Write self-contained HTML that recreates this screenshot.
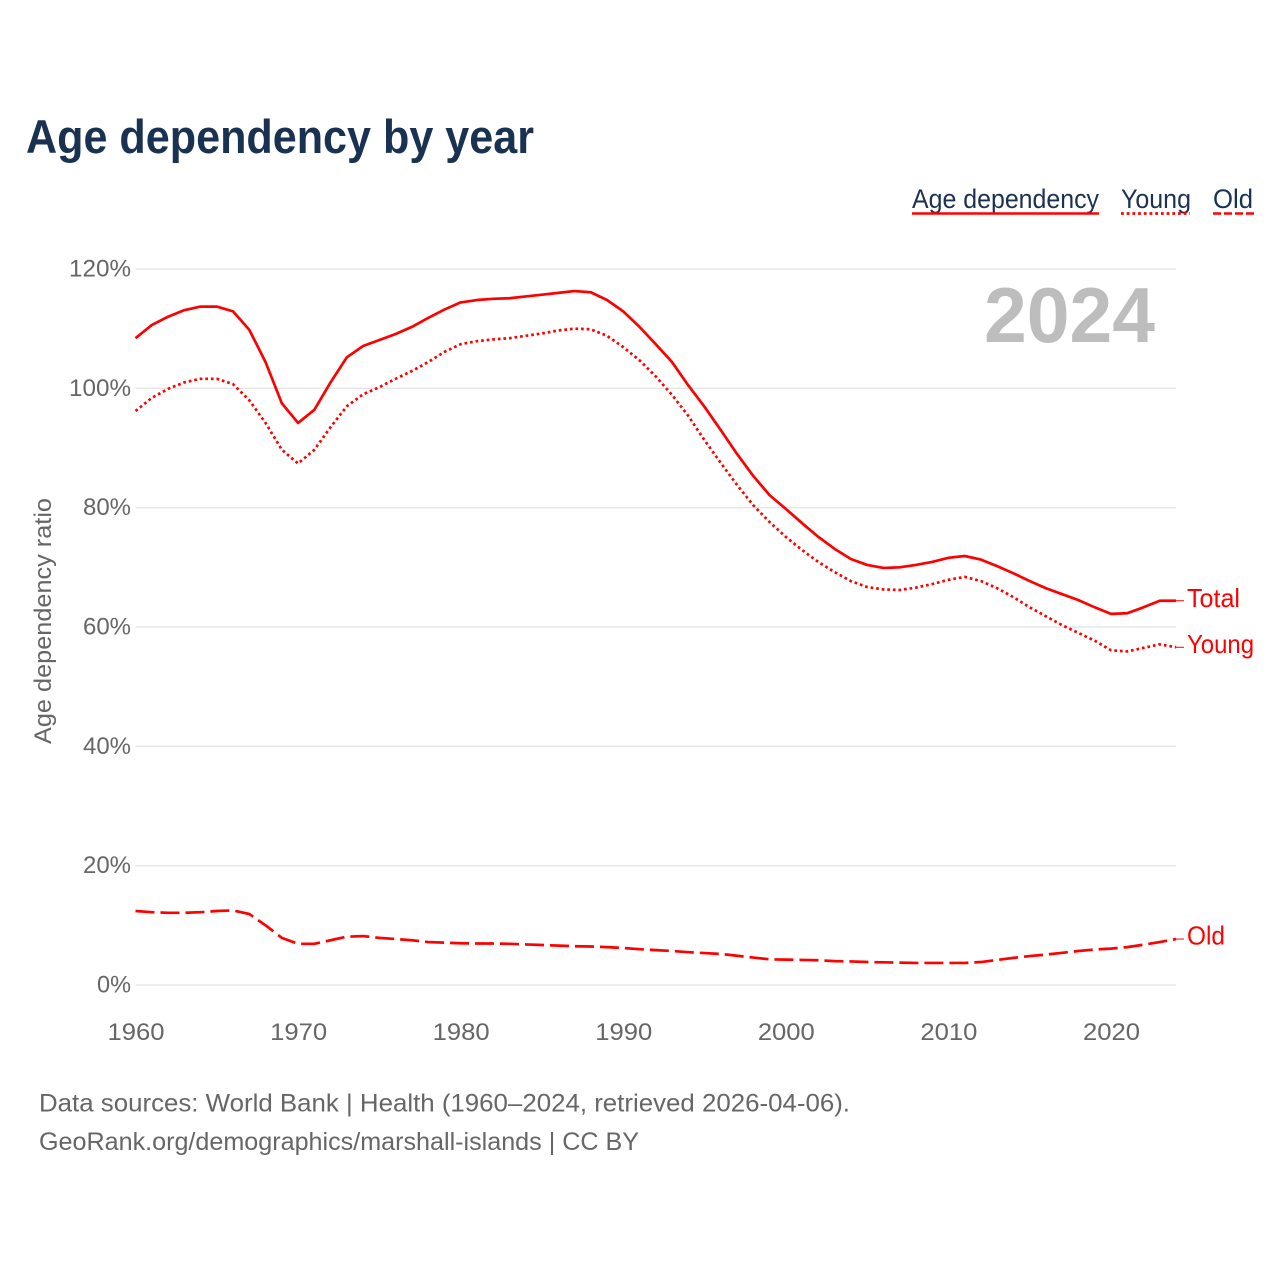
<!DOCTYPE html>
<html lang="en">
<head>
<meta charset="utf-8">
<title>Age dependency by year</title>
<style>
  html, body { margin: 0; padding: 0; background: #ffffff; }
  svg { display: block; font-family: "Liberation Sans", sans-serif; }
  .tick { font-size: 24px; fill: #666666; }
  .note { font-size: 25px; fill: #666666; }
  .legend { font-size: 27px; fill: #1a3252; }
  .end { font-size: 26px; fill: #ff0000; }
</style>
</head>
<body>
<svg id="chart" xmlns="http://www.w3.org/2000/svg" width="1280" height="1280" viewBox="0 0 1280 1280">
  <rect x="0" y="0" width="1280" height="1280" fill="#ffffff"/>
  <text x="26" y="153" font-size="47" font-weight="700" fill="#1a3252" textLength="508" lengthAdjust="spacingAndGlyphs">Age dependency by year</text>

  <g id="grid"></g>
  <g id="yticks"></g>
  <g id="xticks"></g>

  <text class="tick" transform="translate(51,744) rotate(-90)" x="0" y="0" textLength="246" lengthAdjust="spacingAndGlyphs">Age dependency ratio</text>
  <text x="984" y="342" font-size="78" font-weight="700" fill="#bdbdbd" textLength="171" lengthAdjust="spacingAndGlyphs">2024</text>

  <g id="series"></g>

  <g>
    <text class="legend" x="912" y="208" textLength="187" lengthAdjust="spacingAndGlyphs">Age dependency</text>
    <line x1="912" y1="213.5" x2="1099" y2="213.5" stroke="#ff0000" stroke-width="2.5"/>
  </g>
  <g>
    <text class="legend" x="1121" y="208" textLength="70" lengthAdjust="spacingAndGlyphs">Young</text>
    <line x1="1121" y1="213.5" x2="1190" y2="213.5" stroke="#ff0000" stroke-width="2.8" stroke-dasharray="2.8 2.9"/>
  </g>
  <g>
    <text class="legend" x="1213" y="208" textLength="40" lengthAdjust="spacingAndGlyphs">Old</text>
    <line x1="1213" y1="213.5" x2="1254" y2="213.5" stroke="#ff0000" stroke-width="2.5" stroke-dasharray="8 3"/>
  </g>

  <text class="note" x="39" y="1111.5" textLength="811" lengthAdjust="spacingAndGlyphs">Data sources: World Bank | Health (1960–2024, retrieved 2026-04-06).</text>
  <text class="note" x="39" y="1150" textLength="600" lengthAdjust="spacingAndGlyphs">GeoRank.org/demographics/marshall-islands | CC BY</text>
</svg>
<script>
const years = [1960,1961,1962,1963,1964,1965,1966,1967,1968,1969,1970,1971,1972,1973,1974,1975,1976,1977,1978,1979,1980,1981,1982,1983,1984,1985,1986,1987,1988,1989,1990,1991,1992,1993,1994,1995,1996,1997,1998,1999,2000,2001,2002,2003,2004,2005,2006,2007,2008,2009,2010,2011,2012,2013,2014,2015,2016,2017,2018,2019,2020,2021,2022,2023,2024];
const totalValues = [108.4,110.6,112,113.1,113.7,113.7,112.9,109.8,104.4,97.5,94.2,96.4,101,105.2,107.1,108.1,109.1,110.3,111.8,113.2,114.4,114.8,115,115.1,115.4,115.7,116,116.3,116.1,114.8,112.9,110.3,107.4,104.4,100.5,96.9,93,89,85.3,82.1,79.8,77.4,75.1,73.1,71.4,70.4,69.9,70,70.4,70.9,71.6,71.9,71.3,70.2,69,67.7,66.5,65.5,64.5,63.3,62.2,62.3,63.3,64.4,64.4];
const youngValues = [96.2,98.4,99.9,101,101.6,101.6,100.7,98,94.2,89.7,87.4,89.7,93.5,97,99,100.2,101.6,102.9,104.4,106.1,107.4,107.9,108.2,108.4,108.8,109.2,109.7,110,109.9,108.8,106.9,104.7,102,98.9,95.4,91.3,87.5,83.8,80.4,77.6,75.1,72.9,70.9,69.2,67.7,66.7,66.3,66.2,66.6,67.2,67.9,68.4,67.7,66.5,65,63.3,61.8,60.3,59,57.7,56.1,55.9,56.5,57.1,56.6];
const oldValues = [12.4,12.2,12.1,12.1,12.2,12.4,12.5,11.9,10,7.9,6.9,6.9,7.5,8.1,8.2,7.9,7.7,7.5,7.2,7.1,7,6.95,6.95,6.9,6.8,6.7,6.6,6.5,6.45,6.35,6.2,6,5.85,5.7,5.5,5.35,5.2,4.9,4.6,4.3,4.25,4.2,4.15,4,3.95,3.85,3.8,3.75,3.7,3.7,3.7,3.7,3.85,4.2,4.55,4.85,5.1,5.4,5.7,5.95,6.1,6.35,6.75,7.2,7.7];
const yTickValues = [0,20,40,60,80,100,120];
const yTickLabels = ["0%","20%","40%","60%","80%","100%","120%"];
const xTickValues = [1960,1970,1980,1990,2000,2010,2020];
const xTickLabels = ["1960","1970","1980","1990","2000","2010","2020"];
const endLabels = ["Total","Young","Old"];

const NS = "http://www.w3.org/2000/svg";
const plotLeft = 135.5, plotRight = 1176, plotTop = 269, plotBottom = 985;
const xMin = 1960, xMax = 2024, yMin = 0, yMax = 120;
function xScale(v) { return plotLeft + (v - xMin) * (plotRight - plotLeft) / (xMax - xMin); }
function yScale(v) { return plotBottom - (v - yMin) * (plotBottom - plotTop) / (yMax - yMin); }
function make(tag, attrs, parent, text) {
  const el = document.createElementNS(NS, tag);
  for (const k in attrs) el.setAttribute(k, attrs[k]);
  if (text !== undefined) el.textContent = text;
  parent.appendChild(el);
  return el;
}

const gridGroup = document.getElementById("grid");
const yGroup = document.getElementById("yticks");
const xGroup = document.getElementById("xticks");
const seriesGroup = document.getElementById("series");

yTickValues.forEach(function (v, i) {
  const gridLine = make("line", {x1: plotLeft, x2: plotRight, y1: yScale(v), y2: yScale(v), stroke: "#e6e6e6", "stroke-width": 1.4}, gridGroup);
  
  
  const labelWidth = (yTickLabels[i].length - 1) * 14 + 20;
  const label = make("text", {class: "tick", x: 131, y: yScale(v) + 7.5, "text-anchor": "end", textLength: labelWidth, lengthAdjust: "spacingAndGlyphs"}, yGroup, yTickLabels[i]);
  
  
});

xTickValues.forEach(function (v, i) {
  const label = make("text", {class: "tick", x: xScale(v) + 0.5, y: 1040, "text-anchor": "middle", textLength: 57, lengthAdjust: "spacingAndGlyphs"}, xGroup, xTickLabels[i]);
  
  
});

function drawSeries(values, name, dash, endText, labelWidth, labelDy) {
  const d = values.map(function (v, i) {
    return (i ? "L" : "M") + xScale(years[i]).toFixed(2) + " " + yScale(v).toFixed(2);
  }).join(" ");
  const path = make("path", {d: d, fill: "none", stroke: "#ff0000", "stroke-width": 2.7, "stroke-linejoin": "round", "stroke-dasharray": dash}, seriesGroup);
  
  
  const endY = yScale(values[values.length - 1]);
  const leader = make("line", {x1: plotRight, x2: 1184, y1: endY, y2: endY, stroke: "#ff0000", "stroke-width": 1}, seriesGroup);
  
  
  const label = make("text", {class: "end", x: 1187, y: endY + labelDy, textLength: labelWidth, lengthAdjust: "spacingAndGlyphs"}, seriesGroup, endText);
  
  
}

drawSeries(totalValues, "total", "none", endLabels[0], 53, 6.5);
drawSeries(youngValues, "young", "2.7 2.9", endLabels[1], 67, 5.5);
drawSeries(oldValues, "old", "19 6", endLabels[2], 38, 5.5);
</script>
</body>
</html>
